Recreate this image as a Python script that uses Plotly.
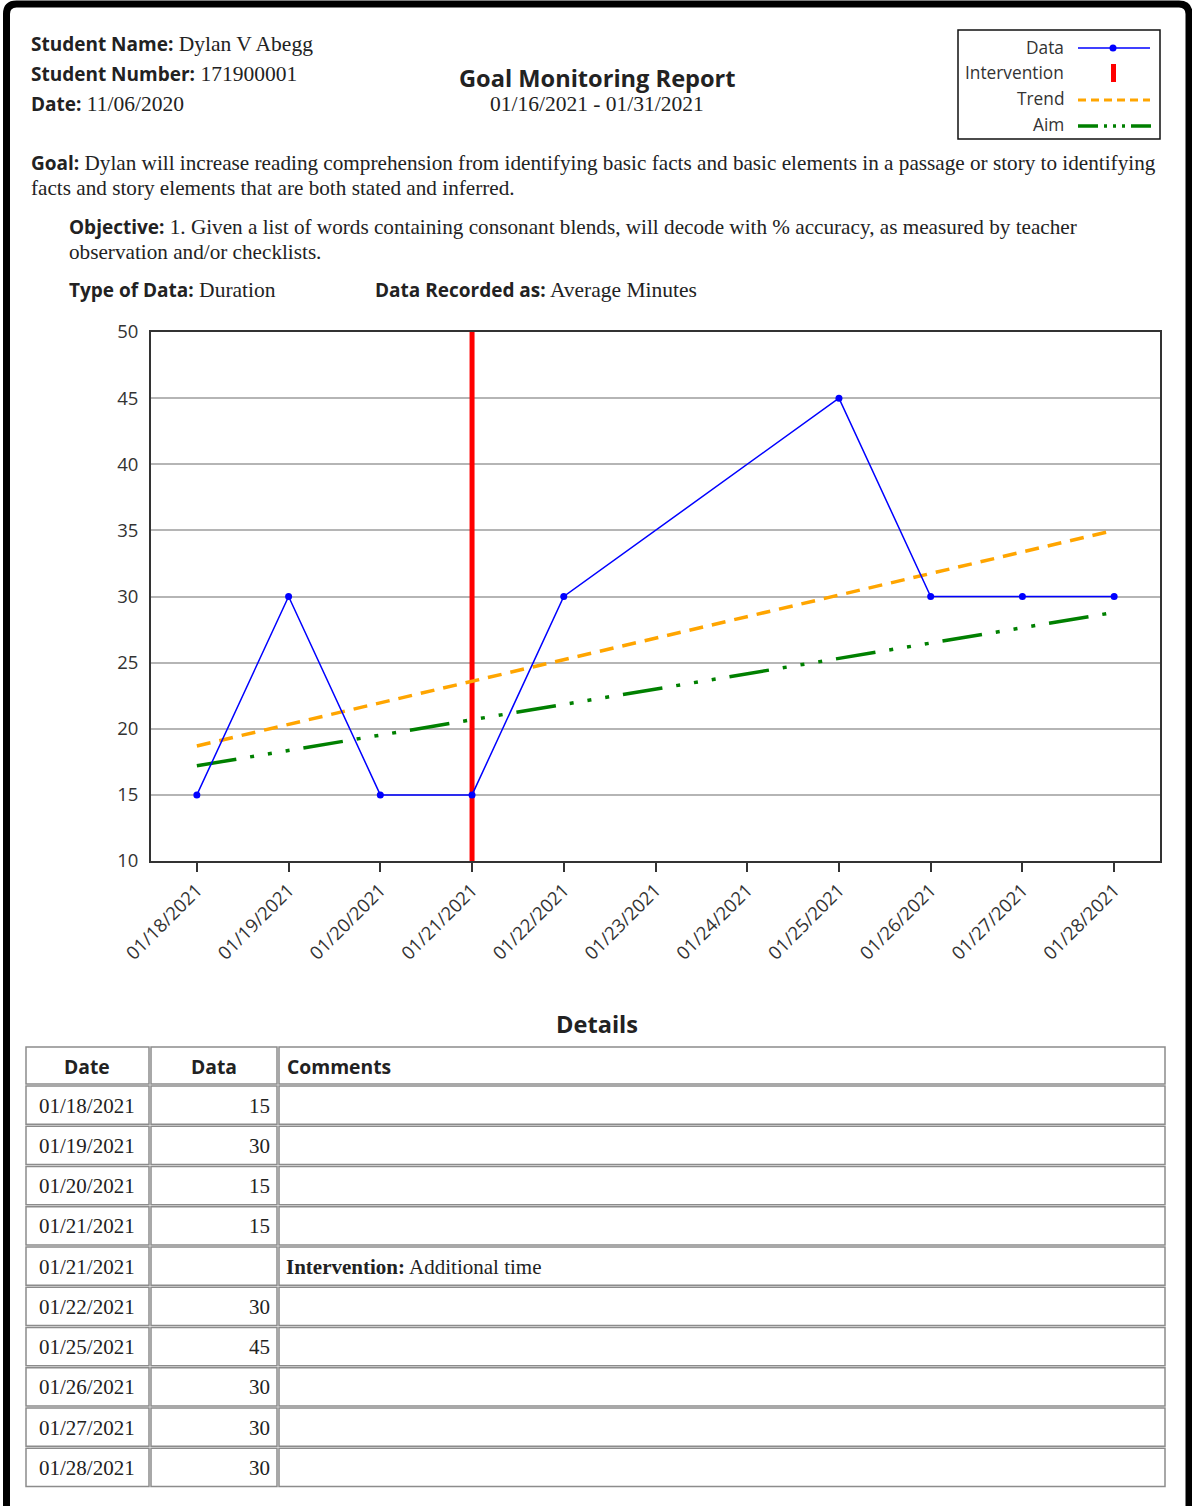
import plotly.graph_objects as go

W, H = 1192, 1506

# ---------------- data ----------------
axis_dates = ['01/18/2021', '01/19/2021', '01/20/2021', '01/21/2021', '01/22/2021', '01/23/2021',
              '01/24/2021', '01/25/2021', '01/26/2021', '01/27/2021', '01/28/2021']
data_dates = ['01/18/2021', '01/19/2021', '01/20/2021', '01/21/2021', '01/22/2021',
              '01/25/2021', '01/26/2021', '01/27/2021', '01/28/2021']
data_values = [15, 30, 15, 15, 30, 45, 30, 30, 30]
intervention_dates = ['01/21/2021', '01/21/2021']
intervention_values = [10, 50]
trend_dates = ['01/18/2021', '01/28/2021']
trend_values = [18.7, 35.0]
aim_dates = ['01/18/2021', '01/28/2021']
aim_values = [17.2, 28.8]
y_ticks = [10, 15, 20, 25, 30, 35, 40, 45, 50]

table_headers = ['Date', 'Data', 'Comments']
table_dates = ['01/18/2021', '01/19/2021', '01/20/2021', '01/21/2021', '01/21/2021',
               '01/22/2021', '01/25/2021', '01/26/2021', '01/27/2021', '01/28/2021']
table_data = ['15', '30', '15', '15', '', '30', '45', '30', '30', '30']
table_comments = ['', '', '', '', '<b>Intervention:</b> Additional time', '', '', '', '', '']

SANS = 'Open Sans'
SERIF = 'Liberation Serif'
TXT = '#222222'


def px(x):
    return x / W


def py(y):
    return 1 - y / H


def lab(label, size=19):
    return f'<span style="font-family:{SANS};font-weight:bold;font-size:{size}px">{label}</span>'


fig = go.Figure()

# ---------------- chart traces ----------------
fig.add_trace(go.Scatter(x=intervention_dates, y=intervention_values, mode='lines',
                         line=dict(color='#FF0000', width=5), showlegend=False, hoverinfo='skip'))
fig.add_trace(go.Scatter(x=trend_dates, y=trend_values, mode='lines',
                         line=dict(color='#FFA500', width=3.5, dash='14px,9px'), showlegend=False))
fig.add_trace(go.Scatter(x=aim_dates, y=aim_values, mode='lines',
                         line=dict(color='#008000', width=3.5,
                                   dash='40px,14px,4px,14px,4px,14px,4px,14px'), showlegend=False))
fig.add_trace(go.Scatter(x=data_dates, y=data_values, mode='lines+markers',
                         line=dict(color='#0000FF', width=1.5),
                         marker=dict(color='#0000FF', size=7), showlegend=False))

# ---------------- annotations ----------------
ann = []
shapes = []


def add(text, x, y, xanchor='left', size=21.5, family=SERIF):
    ann.append(dict(text=text, x=px(x), y=py(y), xref='paper', yref='paper',
                    xanchor=xanchor, yanchor='middle', showarrow=False,
                    font=dict(family=family, size=size, color=TXT)))


add(lab('Student Name:') + ' Dylan V Abegg', 29, 44)
add(lab('Student Number:') + ' 171900001', 29, 74)
add(lab('Date:') + ' 11/06/2020', 29, 104)
add('<b>Goal Monitoring Report</b>', 597, 78, xanchor='center', size=23.6, family=SANS)
add('01/16/2021 - 01/31/2021', 597, 104, xanchor='center', size=21.5)
add(lab('Goal:') + ' Dylan will increase reading comprehension from identifying basic facts and basic elements in a passage or story to identifying',
    29, 163, size=21.2)
add('facts and story elements that are both stated and inferred.', 29, 188, size=21.2)
add(lab('Objective:') + ' 1. Given a list of words containing consonant blends, will decode with % accuracy, as measured by teacher',
    67, 227, size=21.2)
add('observation and/or checklists.', 67, 252, size=21.2)
add(lab('Type of Data:') + ' Duration', 67, 290)
add(lab('Data Recorded as:') + ' Average Minutes', 373, 290)
add('<b>Details</b>', 597, 1024, xanchor='center', size=23.6, family=SANS)

# legend texts
for label, yy in [('Data', 48), ('Intervention', 73), ('Trend', 99), ('Aim', 124)]:
    ann.append(dict(text=label, x=px(1066), y=py(yy), xref='paper', yref='paper',
                    xanchor='right', yanchor='middle', showarrow=False,
                    font=dict(family=SANS, size=17.3, color='#333333')))

# ---------------- details table (cells from the arrays) ----------------
col_edges = [25, 150, 278, 1166]
header_top, header_bot = 1046, 1085
row_h = 40.25
cell_line = dict(color='#8c8c8c', width=1.5)


def cell_rect(x0, x1, y0, y1):
    shapes.append(dict(type='rect', x0=px(x0 + 1), x1=px(x1 - 1), y0=py(y0 + 1), y1=py(y1 - 1),
                       xref='paper', yref='paper', line=cell_line, layer='below'))


for c in range(3):
    cell_rect(col_edges[c], col_edges[c + 1], header_top, header_bot)
header_x = [(87, 'center'), (214, 'center'), (285, 'left')]
for (hx, anc), htxt in zip(header_x, table_headers):
    add(f'<b>{htxt}</b>', hx, (header_top + header_bot) / 2 + 1, xanchor=anc, size=19.3, family=SANS)

for i, (d, v, cm) in enumerate(zip(table_dates, table_data, table_comments)):
    y0 = header_bot + i * row_h
    y1 = y0 + row_h
    yc = (y0 + y1) / 2 + 0.5
    for c in range(3):
        cell_rect(col_edges[c], col_edges[c + 1], y0, y1)
    add(d, 87, yc, xanchor='center', size=21)
    if v:
        add(v, 272, yc, xanchor='right', size=21)
    if cm:
        add(cm, 284, yc, xanchor='left', size=21)

# ---------------- shapes (frame + legend) ----------------
r = 10
path = (f'M {px(6.5)},{py(1506)} L {px(6.5)},{py(4 + r)} Q {px(6.5)},{py(4)} {px(6.5 + r)},{py(4)} '
        f'L {px(1189 - r)},{py(4)} Q {px(1189)},{py(4)} {px(1189)},{py(4 + r)} L {px(1189)},{py(1506)}')
shapes.append(dict(type='path', path=path, xref='paper', yref='paper',
                   line=dict(color='black', width=7)))
shapes.append(dict(type='rect', x0=px(958), x1=px(1160), y0=py(30), y1=py(139),
                   xref='paper', yref='paper', line=dict(color='#111111', width=1.5)))
shapes.append(dict(type='line', x0=px(1078), x1=px(1150), y0=py(48), y1=py(48),
                   xref='paper', yref='paper', line=dict(color='#0000FF', width=1.5)))
shapes.append(dict(type='circle', x0=px(1109.5), x1=px(1116.5), y0=py(44.5), y1=py(51.5),
                   xref='paper', yref='paper', fillcolor='#0000FF', line=dict(color='#0000FF', width=0)))
shapes.append(dict(type='rect', x0=px(1111), x1=px(1116), y0=py(64), y1=py(82),
                   xref='paper', yref='paper', fillcolor='#FF0000', line=dict(width=0)))
shapes.append(dict(type='line', x0=px(1078), x1=px(1150), y0=py(100), y1=py(100),
                   xref='paper', yref='paper', line=dict(color='#FFA500', width=3, dash='8px,5px')))
shapes.append(dict(type='line', x0=px(1078), x1=px(1151), y0=py(126), y1=py(126),
                   xref='paper', yref='paper',
                   line=dict(color='#008000', width=3.5, dash='20px,6px,3px,6px,3px,6px,3px,6px')))

fig.update_layout(
    width=W, height=H, margin=dict(l=0, r=0, t=0, b=0, autoexpand=False),
    paper_bgcolor='white', plot_bgcolor='white',
    annotations=ann, shapes=shapes, showlegend=False,
    xaxis=dict(domain=[px(151), px(1160)], type='category', categoryarray=axis_dates,
               categoryorder='array', range=[-0.5, 10.5], tickangle=-45, automargin=False,
               ticks='outside', ticklen=9, tickwidth=2, tickcolor='#333333',
               showline=True, linewidth=2, linecolor='#333333', mirror=True, showgrid=False,
               tickfont=dict(family=SANS, size=18.5, color='#333333')),
    yaxis=dict(domain=[py(861), py(332)], range=[10, 50], tickvals=y_ticks, automargin=False,
               ticks='', ticklabelstandoff=7,
               showline=True, linewidth=2, linecolor='#333333', mirror=True,
               showgrid=True, gridcolor='#b5b5b5', gridwidth=2, zeroline=False,
               tickfont=dict(family=SANS, size=18.5, color='#333333')),
)

fig.write_html('out.html', config={'displayModeBar': False},
               post_script="document.body.style.margin='0';document.body.style.overflow='hidden';")
